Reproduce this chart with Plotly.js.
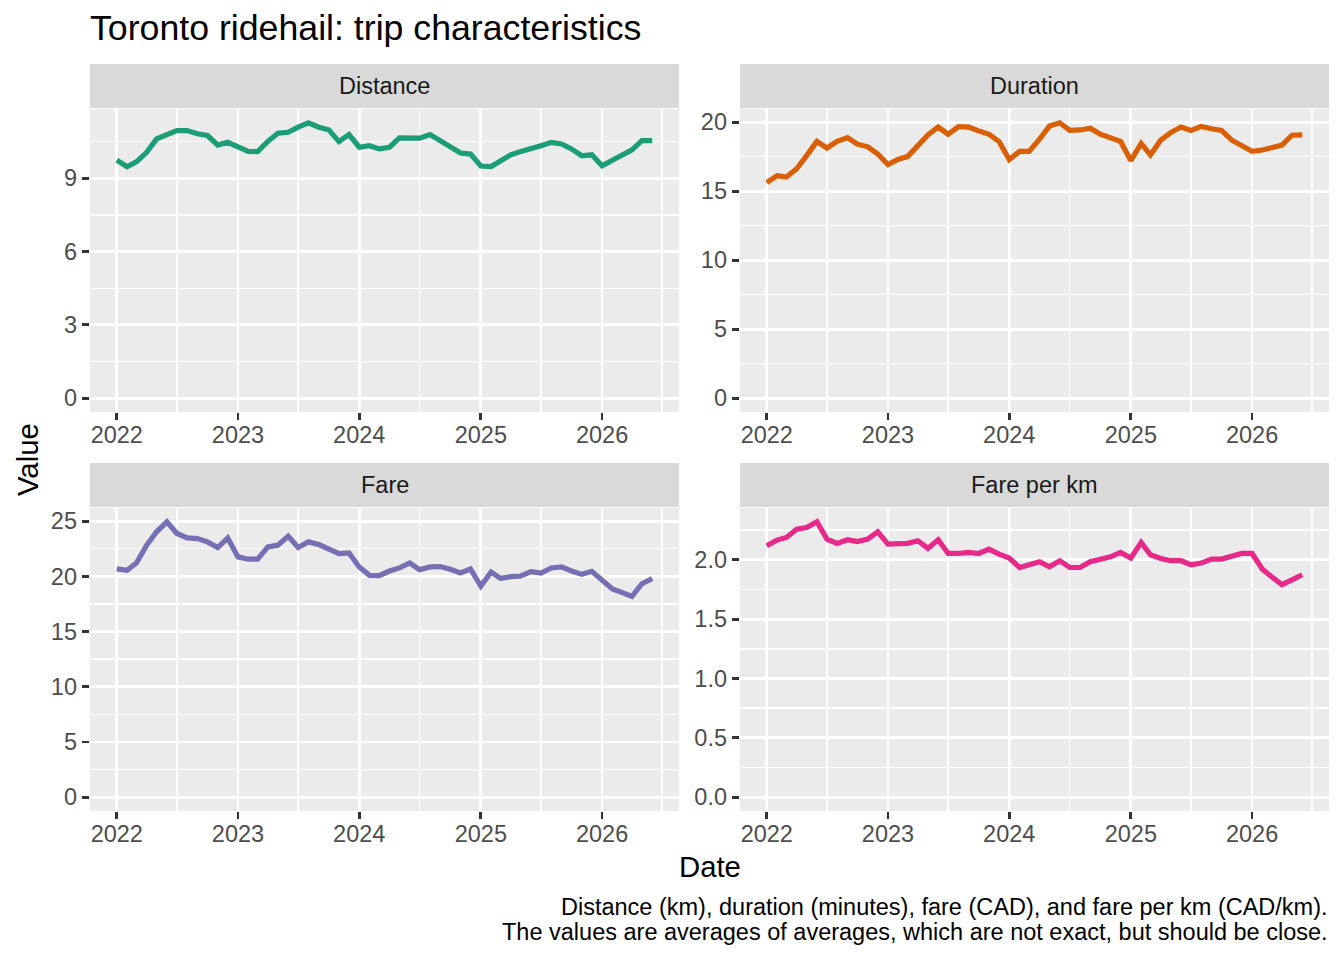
<!DOCTYPE html>
<html><head><meta charset="utf-8">
<script src="https://cdn.plot.ly/plotly-3.0.1.min.js"></script>
<style>html,body{margin:0;padding:0;background:#fff}</style>
</head><body><div id="chart" style="width:1344px;height:960px"></div>
<script>
const months = ['2022-01-01','2022-02-01','2022-03-01','2022-04-01','2022-05-01','2022-06-01','2022-07-01','2022-08-01','2022-09-01','2022-10-01','2022-11-01','2022-12-01',
'2023-01-01','2023-02-01','2023-03-01','2023-04-01','2023-05-01','2023-06-01','2023-07-01','2023-08-01','2023-09-01','2023-10-01','2023-11-01','2023-12-01',
'2024-01-01','2024-02-01','2024-03-01','2024-04-01','2024-05-01','2024-06-01','2024-07-01','2024-08-01','2024-09-01','2024-10-01','2024-11-01','2024-12-01',
'2025-01-01','2025-02-01','2025-03-01','2025-04-01','2025-05-01','2025-06-01','2025-07-01','2025-08-01','2025-09-01','2025-10-01','2025-11-01','2025-12-01',
'2026-01-01','2026-02-01','2026-03-01','2026-04-01','2026-05-01','2026-06-01'];

const distance = [9.74,9.47,9.67,10.06,10.61,10.79,10.95,10.95,10.82,10.75,10.36,10.47,10.27,10.10,10.09,10.51,10.84,10.88,11.09,11.27,11.09,10.98,10.50,10.79,10.27,10.33,10.20,10.27,10.65,10.64,10.64,10.79,10.54,10.31,10.03,9.99,9.50,9.48,9.72,9.96,10.09,10.24,10.33,10.47,10.40,10.20,9.92,9.96,9.51,9.74,9.96,10.16,10.54,10.54];
const duration = [15.62,16.12,16.02,16.62,17.57,18.60,18.12,18.60,18.88,18.40,18.21,17.69,16.93,17.31,17.50,18.29,19.07,19.64,19.12,19.67,19.64,19.36,19.12,18.60,17.29,17.88,17.88,18.76,19.71,19.95,19.40,19.43,19.55,19.12,18.88,18.60,17.21,18.45,17.62,18.69,19.24,19.64,19.40,19.69,19.52,19.40,18.69,18.29,17.88,17.98,18.12,18.33,19.05,19.07];
const fare = [20.67,20.55,21.21,22.82,24.03,24.94,23.88,23.48,23.42,23.12,22.61,23.48,21.76,21.55,21.55,22.67,22.82,23.64,22.61,23.12,22.88,22.52,22.06,22.12,20.85,20.09,20.06,20.48,20.76,21.21,20.61,20.85,20.88,20.64,20.30,20.67,19.12,20.39,19.82,19.97,20.03,20.42,20.30,20.76,20.85,20.48,20.18,20.45,19.58,18.85,18.55,18.18,19.33,19.79];
const farePerKm = [2.118,2.166,2.188,2.258,2.272,2.320,2.174,2.138,2.169,2.154,2.174,2.236,2.132,2.132,2.138,2.160,2.096,2.169,2.053,2.053,2.062,2.053,2.090,2.048,2.014,1.935,1.955,1.983,1.941,1.992,1.935,1.935,1.983,2.000,2.025,2.062,2.014,2.146,2.042,2.011,1.992,1.992,1.958,1.972,2.006,2.006,2.034,2.053,2.053,1.921,1.857,1.790,1.831,1.874];

const panelNames = ['Distance','Duration','Fare','Fare per km'];
const seriesList = [distance, duration, fare, farePerKm];
const colors = ['#1B9E77','#D95F02','#7570B3','#E7298A'];
const yDticks = [3, 5, 5, 0.5];
const yFormats = ['', '', '', '.1f'];

const W = 1344, H = 960;
const FONT = '"Liberation Sans", Arial, Helvetica, sans-serif';
// panel pixel boxes [left,right,top,bottom]
const boxes = [[90,679,109,412],[740,1329,109,412],[90,679,508,811],[740,1329,508,811]];
const strips = [[64,108],[64,108],[463,507],[463,507]];

const t0 = Date.parse(months[0]), t1 = Date.parse(months[months.length-1]);
const tpad = (t1 - t0) * 0.05;
const toStr = ms => new Date(ms).toISOString().replace('T',' ').slice(0,19);
const xRange = [toStr(t0 - tpad), toStr(t1 + tpad)];

const traces = [];
const layout = {
  width: W, height: H,
  margin: {l:0, r:0, t:0, b:0},
  paper_bgcolor: '#FFFFFF',
  plot_bgcolor: '#EBEBEB',
  showlegend: false,
  font: {family: FONT},
  shapes: [],
  annotations: []
};

for (let i = 0; i < 4; i++) {
  const sfx = i === 0 ? '' : String(i+1);
  const ys = seriesList[i];
  traces.push({
    x: months, y: ys, type: 'scatter', mode: 'lines',
    line: {color: colors[i], width: 5.2},
    xaxis: 'x' + sfx, yaxis: 'y' + sfx, hoverinfo: 'skip'
  });
  const b = boxes[i];
  const ymax = Math.max(...ys), ymin = Math.min(0, ...ys);
  const span = ymax - ymin;
  layout['xaxis' + sfx] = {
    domain: [b[0]/W, b[1]/W],
    anchor: 'y' + sfx,
    type: 'date', range: xRange,
    tick0: '2022-01-01', dtick: 'M12', tickformat: '%Y',
    showgrid: true, gridcolor: '#FFFFFF', gridwidth: 2.85,
    minor: {tick0: '2022-01-01', dtick: 'M6', showgrid: true, gridcolor: '#FFFFFF', gridwidth: 1.42, ticks: ''},
    ticks: 'outside', ticklen: 7.3, tickwidth: 2.85, tickcolor: '#333333',
    ticklabelstandoff: -6,
    tickfont: {family: FONT, size: 23.5, color: '#4D4D4D'},
    zeroline: false, showline: false, fixedrange: true
  };
  layout['yaxis' + sfx] = {
    domain: [1 - b[3]/H, 1 - b[2]/H],
    anchor: 'x' + sfx,
    range: [ymin - span*0.05, ymax + span*0.05],
    tick0: 0, dtick: yDticks[i], tickformat: yFormats[i],
    showgrid: true, gridcolor: '#FFFFFF', gridwidth: 2.85,
    minor: {tick0: 0, dtick: yDticks[i]/2, showgrid: true, gridcolor: '#FFFFFF', gridwidth: 1.42, ticks: ''},
    ticks: 'outside', ticklen: 7.3, tickwidth: 2.85, tickcolor: '#333333',
    tickfont: {family: FONT, size: 23.5, color: '#4D4D4D'},
    zeroline: false, showline: false, fixedrange: true
  };
  const s = strips[i];
  layout.shapes.push({
    type: 'rect', xref: 'paper', yref: 'paper',
    x0: b[0]/W, x1: b[1]/W, y0: 1 - s[1]/H, y1: 1 - s[0]/H,
    fillcolor: '#D9D9D9', line: {width: 0}, layer: 'below'
  });
  layout.annotations.push({
    xref: 'paper', yref: 'paper',
    x: (b[0]+b[1])/2/W, y: 1 - (s[0]+s[1])/2/H,
    xanchor: 'center', yanchor: 'middle', showarrow: false,
    text: panelNames[i],
    font: {family: FONT, size: 23.5, color: '#1A1A1A'}
  });
}

layout.annotations.push(
  {xref:'paper', yref:'paper', x: 88/W, y: 1 - 28/H, xanchor:'left', yanchor:'middle', showarrow:false,
   text:'Toronto ridehail: trip characteristics', font:{family:FONT, size:35.7, color:'#000000'}},
  {xref:'paper', yref:'paper', x: 709.5/W, y: 1 - 866/H, xanchor:'center', yanchor:'middle', showarrow:false,
   text:'Date', font:{family:FONT, size:29.3, color:'#000000'}},
  {xref:'paper', yref:'paper', x: 27/W, y: 1 - 460/H, xanchor:'center', yanchor:'middle', showarrow:false,
   text:'Value', textangle: -90, font:{family:FONT, size:29.3, color:'#000000'}},
  {xref:'paper', yref:'paper', x: 1330/W, y: 1 - 907/H, xanchor:'right', yanchor:'middle', showarrow:false,
   text:'Distance (km), duration (minutes), fare (CAD), and fare per km (CAD/km).', font:{family:FONT, size:23.5, color:'#000000'}},
  {xref:'paper', yref:'paper', x: 1330/W, y: 1 - 932/H, xanchor:'right', yanchor:'middle', showarrow:false,
   text:'The values are averages of averages, which are not exact, but should be close.', font:{family:FONT, size:23.5, color:'#000000'}}
);

Plotly.newPlot('chart', traces, layout, {displayModeBar: false, staticPlot: true});
</script>
</body></html>
